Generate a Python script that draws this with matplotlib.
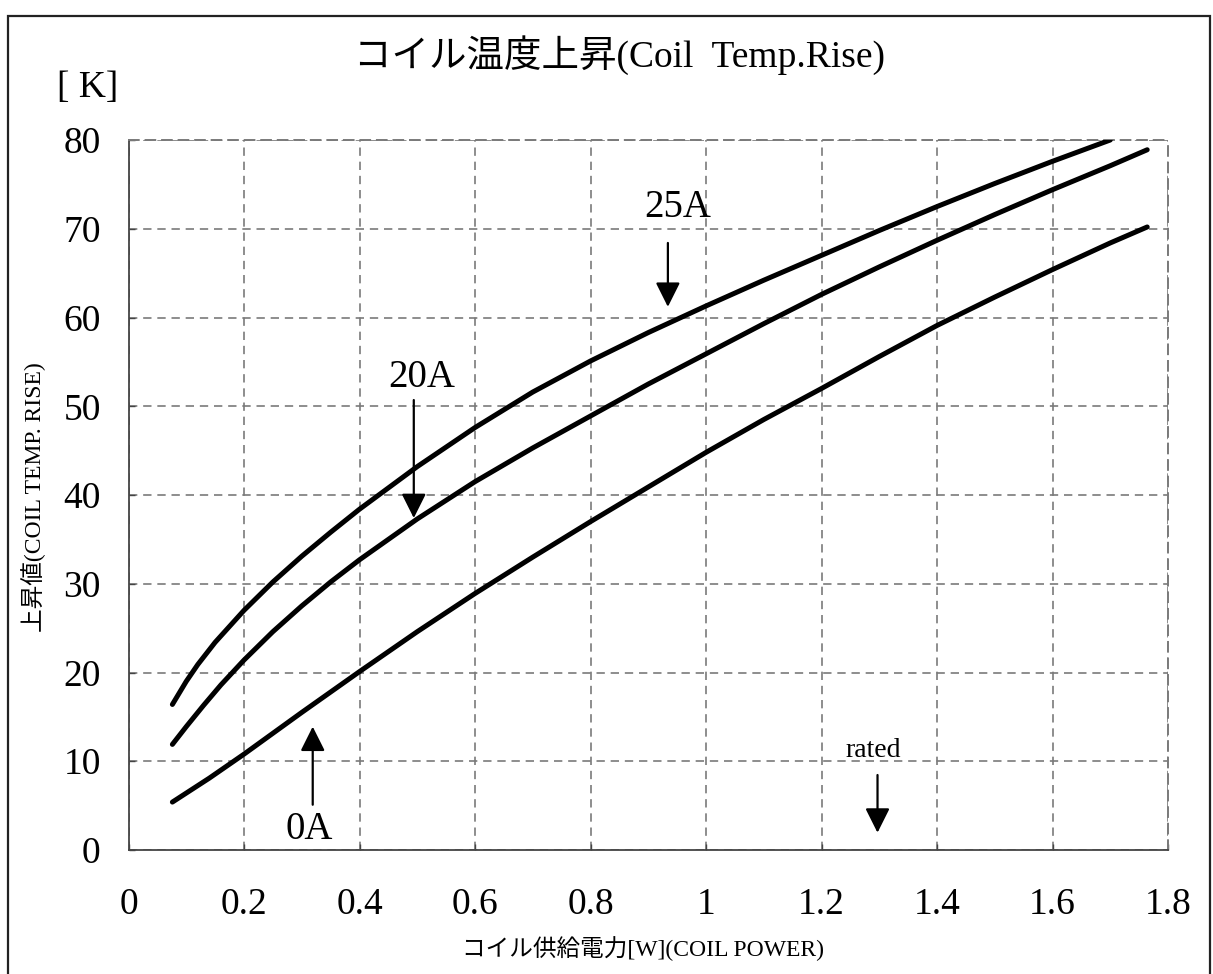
"""コイル温度上昇 (Coil Temp. Rise) — 再現グラフ."""

import matplotlib

matplotlib.use("Agg")
import matplotlib.pyplot as plt
from matplotlib.patches import Rectangle

plt.rcParams["font.family"] = ["Liberation Serif", "Noto Sans CJK JP", "DejaVu Sans"]

# --- データ ---
power_0a = [0.076, 0.14, 0.2, 0.3, 0.4, 0.5, 0.6, 0.7, 0.8, 0.9, 1.0, 1.1, 1.2,
            1.3, 1.4, 1.5, 1.6, 1.7, 1.764]
rise_0a = [5.4, 8.1, 10.8, 15.5, 20.1, 24.6, 28.9, 33.0, 37.0, 40.9, 44.8, 48.5,
           52.0, 55.6, 59.1, 62.3, 65.4, 68.4, 70.2]

power_20a = [0.076, 0.1, 0.13, 0.16, 0.2, 0.25, 0.3, 0.35, 0.4, 0.5, 0.6, 0.7,
             0.8, 0.9, 1.0, 1.1, 1.2, 1.3, 1.4, 1.5, 1.6, 1.7, 1.764]
rise_20a = [11.9, 13.9, 16.3, 18.6, 21.4, 24.6, 27.5, 30.2, 32.7, 37.3, 41.5,
            45.3, 48.9, 52.5, 55.9, 59.3, 62.6, 65.7, 68.7, 71.6, 74.4, 77.1, 78.9]

power_25a = [0.076, 0.1, 0.12, 0.15, 0.2, 0.25, 0.3, 0.35, 0.4, 0.5, 0.6, 0.7,
             0.8, 0.9, 1.0, 1.1, 1.2, 1.3, 1.4, 1.5, 1.6, 1.70]
rise_25a = [16.4, 19.0, 20.9, 23.4, 27.0, 30.2, 33.1, 35.8, 38.4, 43.2, 47.6,
            51.6, 55.1, 58.3, 61.3, 64.2, 67.0, 69.8, 72.5, 75.1, 77.6, 80.0]

x_ticks = [0, 0.2, 0.4, 0.6, 0.8, 1.0, 1.2, 1.4, 1.6, 1.8]
x_labels = ["0", "0.2", "0.4", "0.6", "0.8", "1", "1.2", "1.4", "1.6", "1.8"]
y_ticks = [0, 10, 20, 30, 40, 50, 60, 70, 80]

# 注記: ラベル, 文字位置, 矢印の根元, 矢印の先
notes = [
    ("25A", (0.951, 72.4), (0.934, 68.4), (0.934, 61.2)),
    ("20A", (0.508, 53.2), (0.494, 50.7), (0.494, 37.4)),
    ("0A", (0.3125, 2.3), (0.319, 5.1), (0.319, 13.9)),
]
rated_note = ("rated", (1.289, 11.2), (1.297, 8.45), (1.297, 1.95))

W, H = 1213, 974
fig = plt.figure(figsize=(W / 100, H / 100), dpi=100)
ax = fig.add_axes([128.5 / W, 1 - 850 / H, (1168 - 128.5) / W, (850 - 140) / H])

for xs, ys in ((power_0a, rise_0a), (power_20a, rise_20a), (power_25a, rise_25a)):
    ax.plot(xs, ys, color="black", lw=3.6, solid_capstyle="round",
            solid_joinstyle="round", zorder=3)

ax.set_xlim(0, 1.8)
ax.set_ylim(0, 80)
ax.set_xticks(x_ticks)
ax.set_xticklabels(x_labels)
ax.set_yticks(y_ticks)
ax.tick_params(direction="in", length=4, width=1, color="#444444",
               labelsize=27, pad=20)
ax.tick_params(axis="x", pad=27)
ax.grid(True, color="#7a7a7a", lw=1.2, ls=(0, (5, 3.5)))

for side in ("top", "right"):
    ax.spines[side].set_linestyle((0, (5, 3.5)))
    ax.spines[side].set_color("#7a7a7a")
    ax.spines[side].set_linewidth(1.4)
for side in ("left", "bottom"):
    ax.spines[side].set_color("#444444")
    ax.spines[side].set_linewidth(1.3)

arrow = dict(arrowstyle="-|>,head_length=0.6,head_width=0.3", mutation_scale=25,
             lw=1.6, color="black", shrinkA=0, shrinkB=0)
for label, txt, start, tip in notes:
    ax.annotate("", xy=tip, xytext=start, arrowprops=arrow, zorder=4)
    ax.text(*txt, label, fontsize=28, ha="center", va="center", zorder=4)
label, txt, start, tip = rated_note
ax.annotate("", xy=tip, xytext=start, arrowprops=arrow, zorder=4)
ax.text(*txt, label, fontsize=20, ha="center", va="center", zorder=4)

fig.text(620 / W, 1 - 55 / H, "コイル温度上昇(Coil  Temp.Rise)", fontsize=27,
         ha="center", va="center")
fig.text(88 / W, 1 - 88 / H, "[ K]", fontsize=27, ha="center", va="center")
fig.text(34 / W, 1 - 497 / H, "上昇値(COIL TEMP. RISE)", fontsize=17,
         rotation=90, ha="center", va="center")
fig.text(643 / W, 1 - 949 / H, "コイル供給電力[W](COIL POWER)", fontsize=17,
         ha="center", va="center")

fig.patches.append(Rectangle((8 / W, -0.02), 1202 / W, 1 - 16 / H + 0.02,
                             transform=fig.transFigure, fill=False,
                             edgecolor="#222222", lw=1.6))

fig.savefig("out.png", dpi=100)
